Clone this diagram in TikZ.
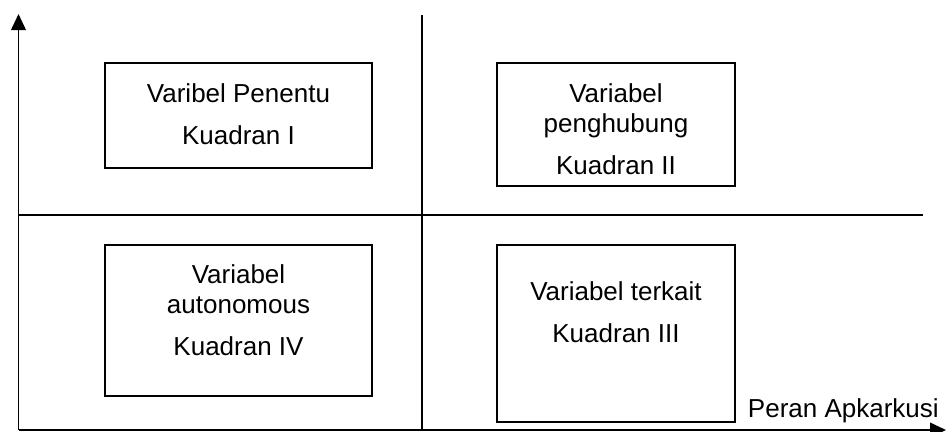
\documentclass[tikz,border=0pt]{standalone}
\usepackage{fontspec}
\setmainfont{Liberation Sans}
\usetikzlibrary{arrows.meta}
\begin{document}
\begin{tikzpicture}[x=0.75pt,y=-0.75pt,
  line/.style={line width=1.3pt},
  box/.style={draw,line width=1.2pt,inner sep=0pt},
  txt/.style={align=center,inner sep=0pt,font=\fontsize{19.5}{22.4}\selectfont},
  axisarrow/.style={line width=1.3pt,-{Triangle[width=11pt,length=12pt]}}]
\useasboundingbox (0,0) rectangle (947,432);
% coordinates of the frame
\coordinate (O) at (18.5,430);
\coordinate (Ytop) at (18.5,14);
\coordinate (Xend) at (946,430);
\coordinate (V1) at (422,15);
\coordinate (V2) at (422,430);
\coordinate (H1) at (18.5,215);
\coordinate (H2) at (923,215);
% boxes
\node[box,minimum width=200.25pt,minimum height=78.75pt] (b1) at (238.5,115.5) {};
\node[box,minimum width=178.5pt,minimum height=92.25pt] (b2) at (616,124.5) {};
\node[box,minimum width=200.25pt,minimum height=113.25pt] (b4) at (238.5,320.5) {};
\node[box,minimum width=178.5pt,minimum height=132.75pt] (b3) at (616,333.5) {};
% texts
\node[txt] (t1) at (238.5,114.5) {Varibel Penentu\\[9pt]Kuadran I};
\node[txt] (t2) at (616,129) {Variabel\\penghubung\\[9pt]Kuadran II};
\node[txt] (t4) at (238.5,310) {Variabel\\autonomous\\[9pt]Kuadran IV};
\node[txt] (t3) at (616,312.5) {Variabel terkait\\[9pt]Kuadran III};
% lines
\draw[line] (V1) -- (V2);
\draw[line] (H1) -- (H2);
\draw[axisarrow] (O) -- (Ytop);
\draw[axisarrow] (O) -- (Xend);
\node[txt,anchor=base east] (xl) at (939,417) {Peran Apkarkusi};
\end{tikzpicture}
\end{document}
